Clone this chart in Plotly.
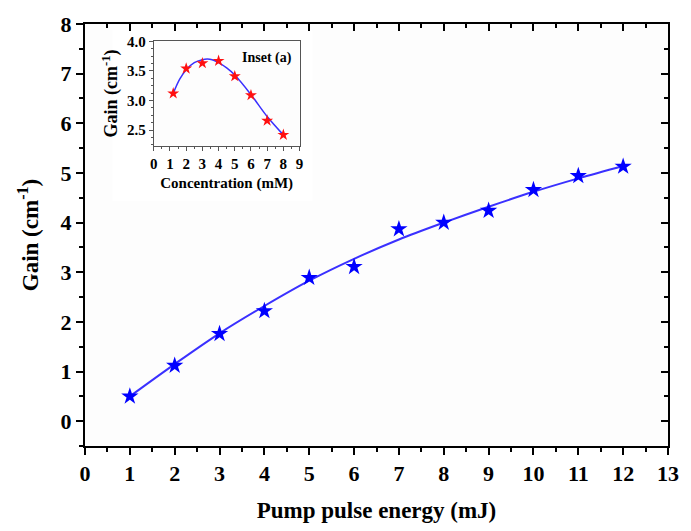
import plotly.graph_objects as go

# Main data
energy = [1, 2, 3, 4, 5, 6, 7, 8, 9, 10, 11, 12]
gain = [0.50, 1.12, 1.76, 2.22, 2.89, 3.11, 3.87, 4.00, 4.24, 4.66, 4.94, 5.13]
fit_gain = [0.50, 1.15, 1.77, 2.32, 2.83, 3.27, 3.66, 4.00, 4.32, 4.62, 4.89, 5.14]

# Inset data
conc = [1.2, 2, 3, 4, 5, 6, 7, 8]
gain_conc = [3.12, 3.54, 3.63, 3.67, 3.41, 3.09, 2.66, 2.42]
fit_conc_x = [1.2, 1.6, 2, 2.5, 3, 3.3, 3.6, 4, 4.5, 5, 6, 7, 8]
fit_conc_y = [3.12, 3.36, 3.52, 3.64, 3.69, 3.70, 3.69, 3.64, 3.55, 3.43, 3.10, 2.73, 2.42]

FONT = "Liberation Serif"
LINE = "#3a30ff"

fig = go.Figure()

fig.add_trace(go.Scatter(x=energy, y=fit_gain, mode="lines", line=dict(color=LINE, width=2, shape="spline"),
                         xaxis="x", yaxis="y", showlegend=False))
fig.add_trace(go.Scatter(x=energy, y=gain, mode="markers",
                         marker=dict(symbol="star", size=13, color="#0000ff", line=dict(width=0)),
                         xaxis="x", yaxis="y", showlegend=False))
# mirror axes carrier (invisible)
fig.add_trace(go.Scatter(x=[0], y=[0], mode="markers", marker=dict(opacity=0), xaxis="x2", yaxis="y2",
                         showlegend=False, hoverinfo="skip"))

fig.add_trace(go.Scatter(x=fit_conc_x, y=fit_conc_y, mode="lines", line=dict(color=LINE, width=1.5, shape="spline"),
                         xaxis="x3", yaxis="y3", showlegend=False))
fig.add_trace(go.Scatter(x=conc, y=gain_conc, mode="markers",
                         marker=dict(symbol="star", size=9, color="#ff1010", line=dict(width=0)),
                         xaxis="x3", yaxis="y3", showlegend=False))

tickfont = dict(family=FONT, size=22, color="black", weight="bold")
titlefont = dict(family=FONT, size=23, color="black", weight="bold")

base = dict(showline=True, linecolor="black", linewidth=2, ticklen=7, tickwidth=2,
            tickcolor="black", showgrid=False, zeroline=False)

fig.update_layout(
    width=691, height=531,
    margin=dict(l=85, r=13, t=16, b=75),
    paper_bgcolor="white", plot_bgcolor="#fdfdfd",
    xaxis=dict(range=[0, 13], dtick=1, tickfont=tickfont, ticks="outside",
               title=dict(text="Pump pulse energy (mJ)", font=titlefont, standoff=16),
               minor=dict(ticks="outside", ticklen=4, tickwidth=1.5, tickcolor="black", dtick=0.5), **base),
    yaxis=dict(range=[-0.5, 8], dtick=1, tick0=0, tickfont=tickfont, ticks="outside",
               title=dict(text="Gain (cm<sup>-1</sup>)", font=titlefont, standoff=16),
               minor=dict(ticks="outside", ticklen=4, tickwidth=1.5, tickcolor="black", dtick=0.5), **base),
    xaxis2=dict(overlaying="x", side="top", anchor="y", range=[0, 13], dtick=1, showticklabels=False,
                ticks="inside",
                minor=dict(ticks="inside", ticklen=4, tickwidth=1.5, tickcolor="black", dtick=0.5), **base),
    yaxis2=dict(overlaying="y", side="right", anchor="x", range=[-0.5, 8], dtick=1, tick0=0, showticklabels=False,
                ticks="inside",
                minor=dict(ticks="inside", ticklen=4, tickwidth=1.5, tickcolor="black", dtick=0.5), **base),
    xaxis3=dict(domain=[0.118, 0.368], anchor="y3", range=[0, 9], dtick=1,
                tickfont=dict(family=FONT, size=15, color="black", weight="bold"),
                title=dict(text="Concentration (mM)", font=dict(family=FONT, size=15, color="black", weight="bold"),
                           standoff=6),
                showline=True, mirror=True, linecolor="#555", linewidth=1, ticks="outside", ticklen=4,
                tickcolor="#555", showgrid=False, zeroline=False,
                minor=dict(ticks="outside", ticklen=2, tickcolor="#555", dtick=0.5)),
    yaxis3=dict(domain=[0.712, 0.959], anchor="x3", range=[2.24, 4.0], dtick=0.5, tick0=2.5, tickformat=".1f",
                tickfont=dict(family=FONT, size=15, color="black", weight="bold"),
                title=dict(text="Gain (cm<sup>-1</sup>)", font=dict(family=FONT, size=18, color="black", weight="bold"),
                           standoff=4),
                showline=True, mirror=True, linecolor="#555", linewidth=1, ticks="outside", ticklen=4,
                tickcolor="#555", showgrid=False, zeroline=False,
                minor=dict(ticks="outside", ticklen=2, tickcolor="#555", dtick=0.125)),
    shapes=[dict(type="rect", xref="paper", yref="paper", x0=0.047, x1=0.39, y0=0.58, y1=0.985,
                 fillcolor="white", line=dict(width=0), layer="below")],
    annotations=[dict(text="Inset (a)", x=7.0, y=3.72, xref="x3", yref="y3", showarrow=False,
                      font=dict(family=FONT, size=14, color="black", weight="bold"))],
)

fig.write_html("out.html")
